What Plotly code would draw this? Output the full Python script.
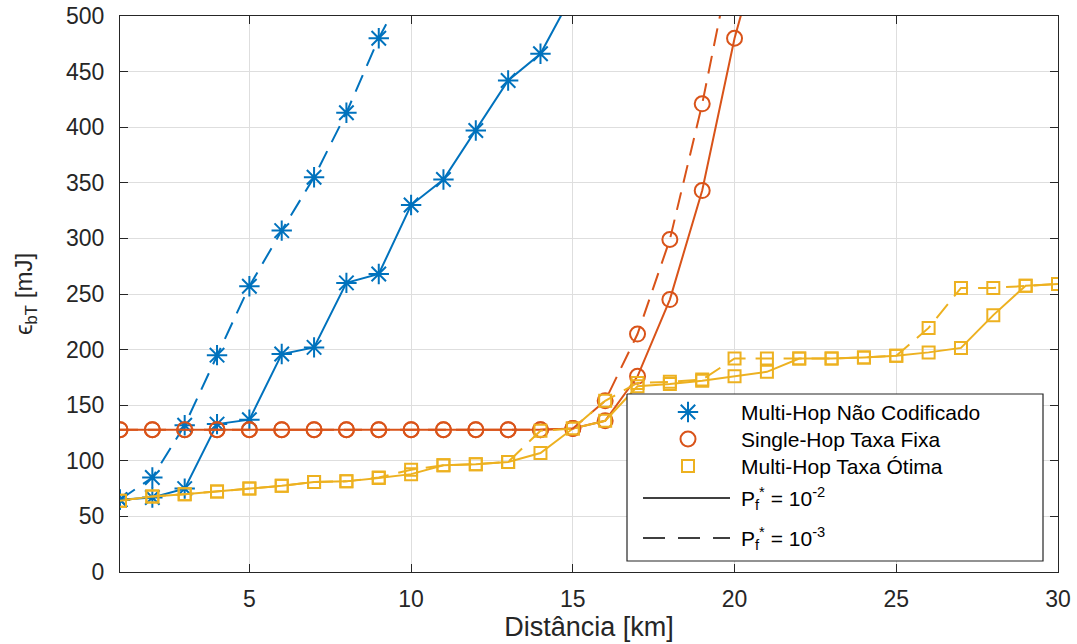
import plotly.graph_objects as go

# ---------------- data ----------------
distance_km = [1, 2, 3, 4, 5, 6, 7, 8, 9, 10, 11, 12, 13, 14, 15,
               16, 17, 18, 19, 20, 21, 22, 23, 24, 25, 26, 27, 28, 29, 30]

# Multi-Hop Não Codificado
mh_uncoded_p2 = [65, 67, 75, 133, 137, 196, 202, 260, 268, 330, 353, 397, 442, 466, 520]
mh_uncoded_p3 = [65, 85, 132, 195, 257, 307, 355, 413, 480, 535]

# Single-Hop Taxa Fixa
sh_fixed_p2 = [128, 128, 128, 128, 128, 128, 128, 128, 128, 128, 128, 128, 128, 128, 129,
               136, 176, 245, 343, 480, 585]
sh_fixed_p3 = [128, 128, 128, 128, 128, 128, 128, 128, 128, 128, 128, 128, 128, 128, 129,
               154, 214, 299, 421, 565]

# Multi-Hop Taxa Ótima
mh_opt_p2 = [64, 68, 70, 72.5, 75, 77.5, 81, 81.5, 84.5, 88, 96, 97, 99, 107, 129,
             136, 167, 169, 172, 176, 180, 192, 192, 193, 194.5, 197.5, 201.5, 231, 257.5, 259]
mh_opt_p3 = [64, 68, 70, 72.5, 75, 77.5, 81, 81.5, 85, 92, 96, 97, 99, 127, 129,
             154, 170, 171, 173, 192, 192, 192, 192, 193, 194.5, 219.5, 255.5, 255.5, 257.5, 259]

series_names = ["Multi-Hop Não Codificado", "Single-Hop Taxa Fixa", "Multi-Hop Taxa Ótima"]
pf_labels = ["P<sub>f</sub><sup>*</sup> = 10<sup>-2</sup>", "P<sub>f</sub><sup>*</sup> = 10<sup>-3</sup>"]
x_ticks = [5, 10, 15, 20, 25, 30]
y_ticks = [0, 50, 100, 150, 200, 250, 300, 350, 400, 450, 500]

# ---------------- styles ----------------
BLUE = "#0072BD"
RED = "#D95319"
YEL = "#EDB120"
DASH = "18px,10px"
FONT = "Liberation Sans, Arial, sans-serif"
TXT = "#262626"

styles = [
    (mh_uncoded_p2, BLUE, "asterisk-open", 17, "solid"),
    (sh_fixed_p2, RED, "circle-open", 15, "solid"),
    (mh_opt_p2, YEL, "square-open", 12, "solid"),
    (mh_uncoded_p3, BLUE, "asterisk-open", 17, DASH),
    (sh_fixed_p3, RED, "circle-open", 15, DASH),
    (mh_opt_p3, YEL, "square-open", 12, DASH),
]

fig = go.Figure()
for ys, col, sym, size, dash in styles:
    fig.add_trace(go.Scatter(
        x=distance_km[:len(ys)], y=ys, mode="lines+markers",
        line=dict(color=col, width=2, dash=dash),
        marker=dict(symbol=sym, size=size, color=col, line=dict(color=col, width=2)),
        showlegend=False, hoverinfo="skip",
    ))

# ---------------- custom legend (pixel-like overlay axes) ----------------
L = dict(x0=627, x1=1043, y0=394, y1=561)
fig.add_trace(go.Scatter(
    x=[L["x0"], L["x1"], L["x1"], L["x0"], L["x0"]],
    y=[L["y0"], L["y0"], L["y1"], L["y1"], L["y0"]],
    mode="lines", fill="toself", fillcolor="white",
    line=dict(color="#262626", width=1.2),
    xaxis="x2", yaxis="y2", showlegend=False, hoverinfo="skip",
))
leg_rows = [412, 439, 466, 498, 538]
leg_markers = [(BLUE, "asterisk-open", 17), (RED, "circle-open", 15), (YEL, "square-open", 12)]
for (col, sym, size), yy in zip(leg_markers, leg_rows[:3]):
    fig.add_trace(go.Scatter(
        x=[688], y=[yy], mode="markers",
        marker=dict(symbol=sym, size=size, color=col, line=dict(color=col, width=2)),
        xaxis="x2", yaxis="y2", showlegend=False, hoverinfo="skip",
    ))
for dash, yy in zip(["solid", "22px,13px"], leg_rows[3:]):
    fig.add_trace(go.Scatter(
        x=[643, 730], y=[yy, yy], mode="lines",
        line=dict(color="black", width=1.3, dash=dash),
        xaxis="x2", yaxis="y2", showlegend=False, hoverinfo="skip",
    ))

annotations = []
for txt, yy in zip(series_names + pf_labels, leg_rows):
    annotations.append(dict(
        text=txt, x=739, y=yy, xref="x2", yref="y2",
        xanchor="left", yanchor="middle", showarrow=False,
        font=dict(family=FONT, size=21, color="black"),
    ))

axis_common = dict(
    showline=True, linecolor=TXT, linewidth=1, mirror="ticks",
    ticks="inside", ticklen=8, tickwidth=1, tickcolor=TXT,
    showgrid=True, gridcolor="#dedede", gridwidth=1,
    zeroline=False, tickfont=dict(family=FONT, size=23, color=TXT),
    automargin=False,
)

fig.update_layout(
    width=1077, height=644,
    margin=dict(l=120, r=19, t=16, b=72),
    paper_bgcolor="white", plot_bgcolor="white",
    showlegend=False,
    xaxis=dict(range=[1, 30], tickvals=x_ticks, ticklabelstandoff=6, **axis_common,
               title=dict(text="Distância [km]", standoff=3,
                          font=dict(family=FONT, size=27, color=TXT))),
    yaxis=dict(range=[0, 500], tickvals=y_ticks, ticklabelstandoff=10, **axis_common,
               title=dict(text="ϵ<sub>bT</sub> [mJ]", standoff=26,
                          font=dict(family=FONT, size=24, color=TXT))),
    xaxis2=dict(overlaying="x", anchor="y2", range=[120, 1058], visible=False, fixedrange=True),
    yaxis2=dict(overlaying="y", anchor="x2", range=[572, 16], visible=False, fixedrange=True),
    annotations=annotations,
)

fig.write_html("out.html")
